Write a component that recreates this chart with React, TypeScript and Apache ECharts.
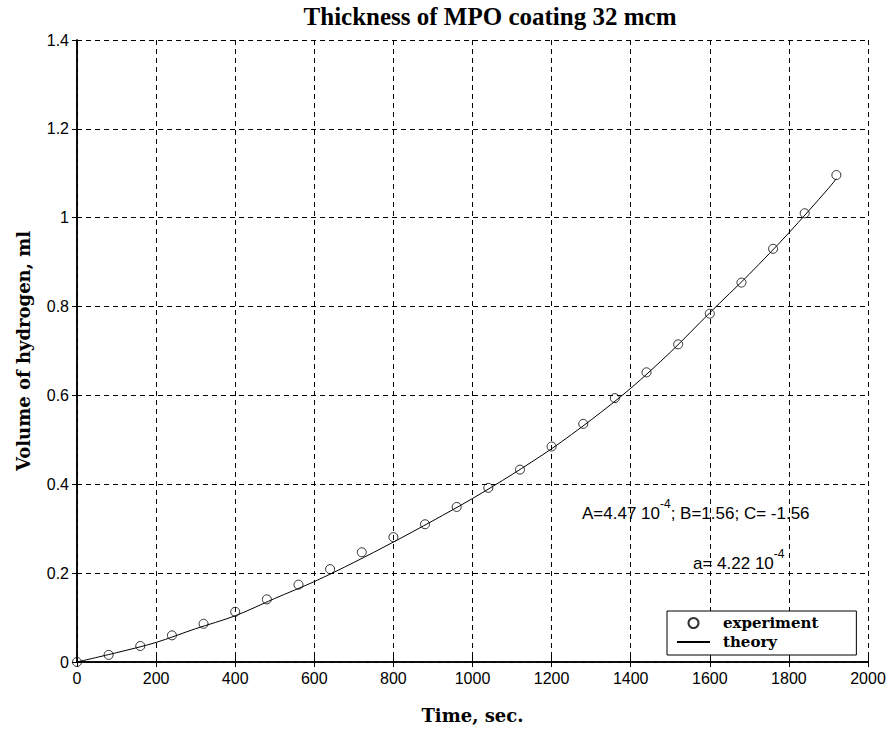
import React, { useEffect, useRef } from "react";
import * as echarts from "echarts";

const chartTitle = "Thickness of MPO coating 32 mcm";
const xAxisName = "Time, sec.";
const yAxisName = "Volume of hydrogen, ml";
const legendNames = ["experiment", "theory"];

const xMin = 0;
const xMax = 2000;
const xStep = 200;
const yMin = 0;
const yMax = 1.4;
const yStep = 0.2;

const experimentTime = [0, 80, 160, 240, 320, 400, 480, 560, 640, 720, 800, 880, 960, 1040, 1120, 1200, 1280, 1360, 1440, 1520, 1600, 1680, 1760, 1840, 1920];
const experimentVolume = [0, 0.016, 0.036, 0.06, 0.086, 0.113, 0.141, 0.174, 0.209, 0.247, 0.281, 0.31, 0.349, 0.392, 0.433, 0.485, 0.536, 0.594, 0.652, 0.715, 0.784, 0.854, 0.93, 1.01, 1.096];

const theoryTime = [0, 100, 200, 300, 400, 500, 600, 700, 800, 900, 1000, 1100, 1200, 1300, 1400, 1500, 1600, 1700, 1800, 1900, 1920];
const theoryVolume = [0, 0.021, 0.044, 0.075, 0.104, 0.143, 0.181, 0.224, 0.27, 0.318, 0.368, 0.422, 0.48, 0.545, 0.616, 0.697, 0.786, 0.873, 0.966, 1.066, 1.088];

const annotationLine1 = "A=4.47 10{sup|-4}; B=1.56; C= -1.56";
const annotationLine2 = "a= 4.22 10{sup|-4}";

export default function App() {
  const ref = useRef<HTMLDivElement>(null);

  useEffect(() => {
    if (!ref.current) return;
    const chart = echarts.init(ref.current, undefined, { renderer: "svg" });

    const fmt = (v: number) => String(+Number(v).toFixed(2));
    const tickFont = { fontFamily: "Liberation Sans, Arial, sans-serif", fontSize: 16, color: "#000", formatter: fmt };
    const nameFont = { fontFamily: "DejaVu Serif", fontWeight: "bold" as const, fontSize: 18, color: "#000" };
    const axisLine = { show: true, lineStyle: { color: "#000", width: 1.5 } };
    const splitLine = { show: true, lineStyle: { color: "#000", width: 1, type: [5, 4] as any } };
    const tick = { show: true, inside: true, length: 5, lineStyle: { color: "#000" } };

    const annotationStyle = (text: string) => ({
      text,
      textAlign: "left",
      textVerticalAlign: "middle",
      fontFamily: "Liberation Sans",
      fontSize: 17,
      lineHeight: 30,
      fill: "#000",
      rich: {
        sup: { fontFamily: "Liberation Sans", fontSize: 12, lineHeight: 13, verticalAlign: "top", fill: "#000" },
      },
    });

    const option: any = {
      animation: false,
      backgroundColor: "#fff",
      grid: { left: 77, right: 21, top: 40, bottom: 69, containLabel: false },
      xAxis: [
        {
          type: "value",
          min: xMin,
          max: xMax,
          interval: xStep,
          position: "bottom",
          name: xAxisName,
          nameLocation: "middle",
          nameGap: 44,
          nameTextStyle: nameFont,
          axisLine,
          axisTick: tick,
          axisLabel: { ...tickFont, margin: 8 },
          splitLine,
        },
        {
          type: "value",
          min: xMin,
          max: xMax,
          interval: xStep,
          position: "top",
          axisLine,
          axisTick: tick,
          axisLabel: { show: false },
          splitLine: { show: false },
        },
      ],
      yAxis: [
        {
          type: "value",
          min: yMin,
          max: yMax,
          interval: yStep,
          position: "left",
          name: yAxisName,
          nameLocation: "middle",
          nameGap: 45,
          nameTextStyle: nameFont,
          axisLine,
          axisTick: tick,
          axisLabel: { ...tickFont, margin: 8 },
          splitLine,
        },
        {
          type: "value",
          min: yMin,
          max: yMax,
          interval: yStep,
          position: "right",
          axisLine,
          axisTick: tick,
          axisLabel: { show: false },
          splitLine: { show: false },
        },
      ],
      legend: {
        data: legendNames,
        orient: "vertical",
        left: 667,
        top: 611,
        padding: [4, 38, 5, 9],
        itemGap: 3,
        itemWidth: 33,
        itemHeight: 10,
        backgroundColor: "#fff",
        borderColor: "#000",
        borderWidth: 1,
        textStyle: {
          fontFamily: "DejaVu Serif",
          fontWeight: "bold",
          fontSize: 15,
          color: "#000",
          lineHeight: 16,
          padding: [0, 0, 0, 8],
        },
      },
      series: [
        {
          name: legendNames[0],
          type: "scatter",
          xAxisIndex: 0,
          yAxisIndex: 0,
          symbol: "circle",
          symbolSize: 9,
          itemStyle: { color: "rgba(0,0,0,0)", borderColor: "#000", borderWidth: 1 },
          data: experimentTime.map((t, i) => [t, experimentVolume[i]]),
          z: 3,
        },
        {
          name: legendNames[1],
          type: "line",
          xAxisIndex: 0,
          yAxisIndex: 0,
          symbol: "none",
          smooth: 0.3,
          lineStyle: { color: "#000", width: 1 },
          itemStyle: { color: "rgba(0,0,0,0)", borderWidth: 0 },
          data: theoryTime.map((t, i) => [t, theoryVolume[i]]),
          z: 2,
        },
      ],
      graphic: [
        {
          type: "text",
          x: 490,
          y: 16,
          style: {
            text: chartTitle,
            textAlign: "center",
            textVerticalAlign: "middle",
            fontFamily: "Liberation Serif",
            fontWeight: "bold",
            fontSize: 25,
            fill: "#000",
          },
        },
        { type: "text", x: 582, y: 513, style: annotationStyle(annotationLine1) },
        { type: "text", x: 693, y: 563, style: annotationStyle(annotationLine2) },
      ],
    };

    chart.setOption(option);
    return () => chart.dispose();
  }, []);

  return (
    <div
      ref={ref}
      style={{ position: "absolute", left: 0, top: 0, width: 889, height: 731, background: "#fff" }}
    />
  );
}
